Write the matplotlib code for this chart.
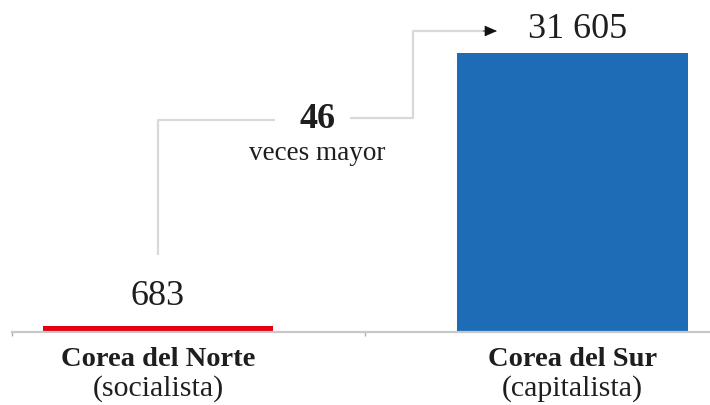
import matplotlib
matplotlib.use("Agg")
import matplotlib.pyplot as plt

plt.rcParams['font.family'] = ['Liberation Serif', 'DejaVu Serif']

# datos
paises = ['Corea del Norte', 'Corea del Sur']
sistemas = ['(socialista)', '(capitalista)']
pib = [683, 31605]
etiquetas = ['683', '31 605']
colores = ['#e4000f', '#1d6cb5']
veces = '46'

texto = '#1e1e1e'
gris = '#d9d9d9'

fig = plt.figure(figsize=(7.1, 4.05), dpi=100)
# baseline at 332 px from top
ax = fig.add_axes([0, 73 / 405, 1, 332 / 405])
ymax = pib[1] * 332 / 279
ax.set_ylim(0, ymax)
ax.set_xlim(-158 / 414.5, 552 / 414.5)

ax.bar(range(len(pib)), pib, width=0.555, color=colores, zorder=2)

# eje
for s in ['top', 'right', 'left']:
    ax.spines[s].set_visible(False)
ax.spines['bottom'].set_color('#c8c8c8')
ax.spines['bottom'].set_linewidth(1.6)
ax.spines['bottom'].set_bounds(-146 / 414.5, 552 / 414.5)
ax.set_yticks([])
ax.set_xticks([])
ax.set_xticks([-146 / 414.5, 0.5], minor=True)
ax.tick_params(axis='x', which='minor', length=3, width=1, color='#b0b0b0', direction='out')

def px2val(py):
    return (332 - py) / 279 * pib[1]

def px2x(px):
    return (px - 158) / 414.5

# etiquetas de categorias
for i, (p, s) in enumerate(zip(paises, sistemas)):
    ax.annotate(p, xy=(i, 0), xytext=(0, -28), textcoords='offset pixels',
                ha='center', va='center', fontsize=20.5, fontweight='bold', color=texto)
    ax.annotate(s, xy=(i, 0), xytext=(0, -57), textcoords='offset pixels',
                ha='center', va='center', fontsize=21.5, color=texto)

# valores
ax.annotate(etiquetas[0], xy=(0, pib[0]), xytext=(0, 21), textcoords='offset pixels',
            ha='center', va='baseline', fontsize=26, color=texto)
ax.annotate(etiquetas[1], xy=(1, pib[1]), xytext=(5, 15), textcoords='offset pixels',
            ha='center', va='baseline', fontsize=26, color=texto)

# conector
lw = 1.6
ax.plot([0, 0, px2x(275)], [px2val(255), px2val(120), px2val(120)],
        color=gris, lw=lw, solid_capstyle='butt', zorder=1)
ax.plot([px2x(350), px2x(413), px2x(413), px2x(485)],
        [px2val(118), px2val(118), px2val(31), px2val(31)],
        color=gris, lw=lw, solid_capstyle='butt', zorder=1)
ax.annotate('', xy=(px2x(497), px2val(31)), xytext=(px2x(483), px2val(31)),
            arrowprops=dict(arrowstyle='-|>,head_length=0.8,head_width=0.35',
                            color='#111111', lw=0.5, shrinkA=0, shrinkB=0))

ax.text(px2x(317), px2val(119), veces, ha='center', va='center',
        fontsize=26, fontweight='bold', color=texto)
ax.text(px2x(317), px2val(160), 'veces mayor', ha='center', va='baseline',
        fontsize=19.5, color=texto)

fig.savefig('out.png', dpi=100)
